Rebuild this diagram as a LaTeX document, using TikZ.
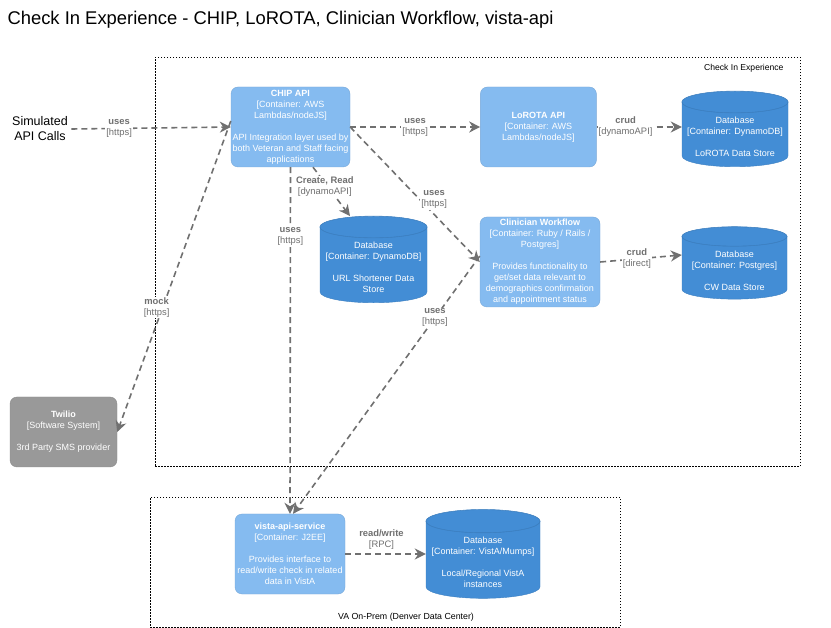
\documentclass[tikz,border=0pt]{standalone}
\usepackage{fontspec}
\setmainfont{Liberation Sans}
\usetikzlibrary{arrows.meta, positioning, shapes.geometric, calc}

\definecolor{contfill}{HTML}{85BBF0}
\definecolor{contline}{HTML}{78A8D8}
\definecolor{dbfill}{HTML}{438DD5}
\definecolor{dbline}{HTML}{3C7FC0}
\definecolor{extfill}{HTML}{999999}
\definecolor{extline}{HTML}{8A8A8A}
\definecolor{relgray}{HTML}{707070}

\begin{document}
\begin{tikzpicture}[
  x=1pt, y=-1pt,
  container/.style = {
    draw=contline,
    fill=contfill,
    rounded corners=7pt,
    text=white,
    align=center,
    inner sep=1pt,
    font=\fontsize{9}{11}\selectfont
  },
  database/.style = {
    cylinder,
    shape border rotate=90,
    aspect=0.22,
    anchor=shape center,
    draw=dbline,
    fill=dbfill,
    text=white,
    align=center,
    inner sep=1pt,
    font=\fontsize{9}{11}\selectfont
  },
  extsys/.style = {
    container,
    draw=extline,
    fill=extfill
  },
  boundary/.style = {draw, thin, dash pattern=on 1.5pt off 1.5pt},
  rel/.style = {
    draw=relgray,
    line width=1.6pt,
    dash pattern=on 6pt off 4pt,
    -{Stealth[length=11pt, width=11pt, inset=3.5pt]}
  },
  rellabel/.style = {
    fill=white,
    text=relgray,
    align=center,
    inner sep=1pt,
    font=\fontsize{9.4}{11}\selectfont
  }
]

\useasboundingbox (0,0) rectangle (831,628);

% ---- title ----
\node[anchor=west, font=\fontsize{18.4}{22}\selectfont] (title) at (4,20)
  {Check In Experience - CHIP, LoROTA, Clinician Workflow, vista-api};

% ---- boundaries ----
\node[boundary, anchor=north west, minimum width=645, minimum height=409] (cie) at (155,57) {};
\node[anchor=north east, font=\fontsize{8.6}{10}\selectfont] (cielabel) at (787,61) {Check In Experience};

\node[boundary, anchor=north west, minimum width=470, minimum height=130] (vaop) at (150,497) {};
\node[font=\fontsize{8.8}{10}\selectfont] (vaoplabel) at (406,617) {VA On-Prem (Denver Data Center)};

% ---- callers ----
\node[align=center, font=\fontsize{12.5}{15}\selectfont] (sim) at (40,129) {Simulated\\API Calls};

% ---- containers ----
\node[container, minimum width=119, minimum height=80] (chip) at (290.5,127) {
  \textbf{CHIP API}\\
  {[}Container: AWS\\
  Lambdas/nodeJS]\\[11pt]
  API Integration layer used by\\
  both Veteran and Staff facing\\
  applications
};

\node[container, minimum width=116, minimum height=80, right=130pt of chip] (lorota) {
  \textbf{LoROTA API}\\
  {[}Container: AWS\\
  Lambdas/nodeJS]
};

\node[database, minimum width=106, minimum height=74] (lorotadb) at (735,129) {
  \mbox{}\\[-1pt]
  Database\\
  {[}Container: DynamoDB]\\[11pt]
  LoROTA Data Store
};

\node[database, minimum width=107, minimum height=75] (urldb) at (373.5,259.5) {
  \mbox{}\\[-1pt]
  Database\\
  {[}Container: DynamoDB]\\[11pt]
  URL Shortener Data\\
  Store
};

\node[container, minimum width=120, minimum height=90] (cw) at (540,262) {
  \textbf{Clinician Workflow}\\
  {[}Container: Ruby / Rails /\\
  Postgres]\\[11pt]
  Provides functionality to\\
  get/set data relevant to\\
  demographics confirmation\\
  and appointment status
};

\node[database, minimum width=105, minimum height=66] (cwdb) at (734.5,263) {
  \mbox{}\\[-1pt]
  Database\\
  {[}Container: Postgres]\\[11pt]
  CW Data Store
};

\node[extsys, minimum width=107, minimum height=70] (twilio) at (63.5,432) {
  \textbf{Twilio}\\
  {[}Software System]\\[11pt]
  3rd Party SMS provider
};

\node[container, minimum width=110, minimum height=80] (vista) at (290,554) {
  \textbf{vista-api-service}\\
  {[}Container: J2EE]\\[11pt]
  Provides interface to\\
  read/write check in related\\
  data in VistA
};

\node[database, minimum width=114, minimum height=88] (vistadb) at (483,554) {
  \mbox{}\\[-1pt]
  Database\\
  {[}Container: VistA/Mumps]\\[11pt]
  Local/Regional VistA\\
  instances
};

% front rim of each database top
\foreach \db in {lorotadb, urldb, cwdb, vistadb}
  \draw[dbline] let \p1 = (\db.before top), \p2 = (\db.after top), \p3 = (\db.top) in
    ($(\p1)!0.5!(\p2)$) ellipse [x radius={abs(\x2-\x1)/2}, y radius={abs(\y3-(\y1+\y2)/2)}];

% ---- relations ----
\draw[rel] (sim.east) -- node[rellabel, pos=0.3] {\textbf{uses}\\{[https]}} (chip.west);
\draw[rel] (chip.east) -- node[rellabel, pos=0.5] {\textbf{uses}\\{[https]}} (lorota.west);
\draw[rel] (lorota.east) -- node[rellabel, pos=0.34] {\textbf{crud}\\{[dynamoAPI]}} (lorota.east -| lorotadb.west);
\draw[rel] ([xshift=22.5pt]chip.south) -- node[rellabel, pos=0.4, xshift=-3pt] {\textbf{Create, Read}\\{[dynamoAPI]}} ([xshift=-23.5pt]urldb.north);
\draw[rel] (chip.south) -- node[rellabel, pos=0.2] {\textbf{uses}\\{[https]}} (vista.north);
\draw[rel] (chip.east) -- node[rellabel, pos=0.54, xshift=14pt] {\textbf{uses}\\{[https]}} (cw.west);
\draw[rel] ([yshift=6pt]chip.west) -- node[rellabel, pos=0.6, xshift=-6pt] {\textbf{mock}\\{[https]}} (twilio.east);
\draw[rel] ([yshift=6pt]cw.west) -- node[rellabel, pos=0.24] {\textbf{uses}\\{[https]}} ([xshift=3pt]vista.north);
\draw[rel] (cw.east) -- node[rellabel, pos=0.45] {\textbf{crud}\\{[direct]}} ([yshift=7pt]cw.east -| cwdb.west);
\draw[rel] (vista.east) -- node[rellabel, pos=0.45, above=3pt] {\textbf{read/write}\\{[RPC]}} (vista.east -| vistadb.west);

\end{tikzpicture}
\end{document}
